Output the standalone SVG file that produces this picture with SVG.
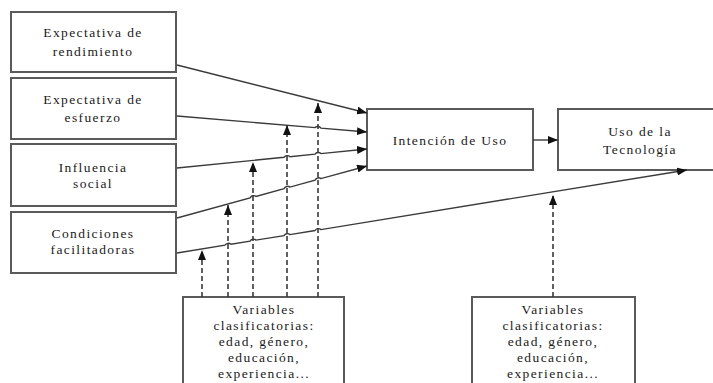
<svg xmlns="http://www.w3.org/2000/svg" width="713" height="383" viewBox="0 0 713 383">
  <defs>
    <style>
      .box { fill: #ffffff; stroke: #5a5a5a; stroke-width: 2; }
      .lbl { font-size: 13.5px; fill: #1a1a1a; text-anchor: middle; letter-spacing: 1.4px; }
      .solid { fill: none; stroke: #3a3a3a; stroke-width: 1.4; }
      .dash { fill: none; stroke: #3a3a3a; stroke-width: 1.6; stroke-dasharray: 5 3; }
    </style>
    <marker id="ah" markerWidth="10" markerHeight="8" refX="10" refY="4" orient="auto" markerUnits="userSpaceOnUse">
      <path d="M0,0 L10,4 L0,8 z" fill="#111111"/>
    </marker>
  </defs>
  <rect width="713" height="383" fill="#ffffff"/>

  <g font-family="'Liberation Serif', 'Times New Roman', serif">
  <!-- predictors -->
  <g id="expectativa-rendimiento">
    <rect class="box" x="11" y="12" width="165" height="60"/>
    <text class="lbl" x="93" y="37">Expectativa de</text>
    <text class="lbl" x="93" y="56">rendimiento</text>
  </g>
  <g id="expectativa-esfuerzo">
    <rect class="box" x="11" y="78" width="165" height="61"/>
    <text class="lbl" x="93" y="104">Expectativa de</text>
    <text class="lbl" x="93" y="122">esfuerzo</text>
  </g>
  <g id="influencia-social">
    <rect class="box" x="11" y="144" width="165" height="62"/>
    <text class="lbl" x="93" y="172">Influencia</text>
    <text class="lbl" x="93" y="188">social</text>
  </g>
  <g id="condiciones-facilitadoras">
    <rect class="box" x="11" y="212" width="165" height="61"/>
    <text class="lbl" x="93" y="238">Condiciones</text>
    <text class="lbl" x="93" y="254">facilitadoras</text>
  </g>

  <!-- outcomes -->
  <g id="intencion-uso">
    <rect class="box" x="367" y="109" width="166" height="61"/>
    <text class="lbl" x="450" y="145">Intención de Uso</text>
  </g>
  <g id="uso-tecnologia">
    <rect class="box" x="558" y="109" width="170" height="61"/>
    <text class="lbl" x="640" y="136">Uso de la</text>
    <text class="lbl" x="640" y="154">Tecnología</text>
  </g>

  <!-- moderators -->
  <g id="variables-1">
    <rect class="box" x="183" y="297" width="161" height="100"/>
    <text class="lbl" x="264" y="314">Variables</text>
    <text class="lbl" x="264" y="330">clasificatorias:</text>
    <text class="lbl" x="264" y="346">edad, género,</text>
    <text class="lbl" x="264" y="362">educación,</text>
    <text class="lbl" x="264" y="378">experiencia...</text>
  </g>
  <g id="variables-2">
    <rect class="box" x="472" y="297" width="163" height="100"/>
    <text class="lbl" x="553" y="314">Variables</text>
    <text class="lbl" x="553" y="330">clasificatorias:</text>
    <text class="lbl" x="553" y="346">edad, género,</text>
    <text class="lbl" x="553" y="362">educación,</text>
    <text class="lbl" x="553" y="378">experiencia...</text>
  </g>
  </g>

  <!-- connectors -->
  <g id="connectors">
    <path class="solid" marker-end="url(#ah)" d="M177,65 L367,113"/>
    <path class="solid" marker-end="url(#ah)" d="M177,116 L315,127.6 A4,4 0 0 1 321,128.1 L367,132"/>
    <path class="solid" marker-end="url(#ah)" d="M177,168 L284,157.3 A4,4 0 0 1 290,156.7 L315,154.2 A4,4 0 0 1 321,153.6 L367,149"/>
    <path class="solid" marker-end="url(#ah)" d="M177,218 L250,198 A4,4 0 0 1 256,196.4 L284,188.7 A4,4 0 0 1 290,187.1 L315,180.2 A4,4 0 0 1 321,178.6 L367,166"/>
    <path class="solid" marker-end="url(#ah)" d="M177,253 L225,245.2 A4,4 0 0 1 231,244.2 L250,241.1 A4,4 0 0 1 256,240.1 L284,235.6 A4,4 0 0 1 290,234.6 L315,230.5 A4,4 0 0 1 321,229.6 L687,170"/>
    <path class="solid" marker-end="url(#ah)" d="M533,140 L558,140"/>

    <path class="dash" marker-end="url(#ah)" d="M202,297 L202,250"/>
    <path class="dash" marker-end="url(#ah)" d="M228,297 L228,205"/>
    <path class="dash" marker-end="url(#ah)" d="M253,297 L253,162"/>
    <path class="dash" marker-end="url(#ah)" d="M287,297 L287,125"/>
    <path class="dash" marker-end="url(#ah)" d="M318,297 L318,103"/>
    <path class="dash" marker-end="url(#ah)" d="M553,297 L553,195"/>
  </g>
</svg>
